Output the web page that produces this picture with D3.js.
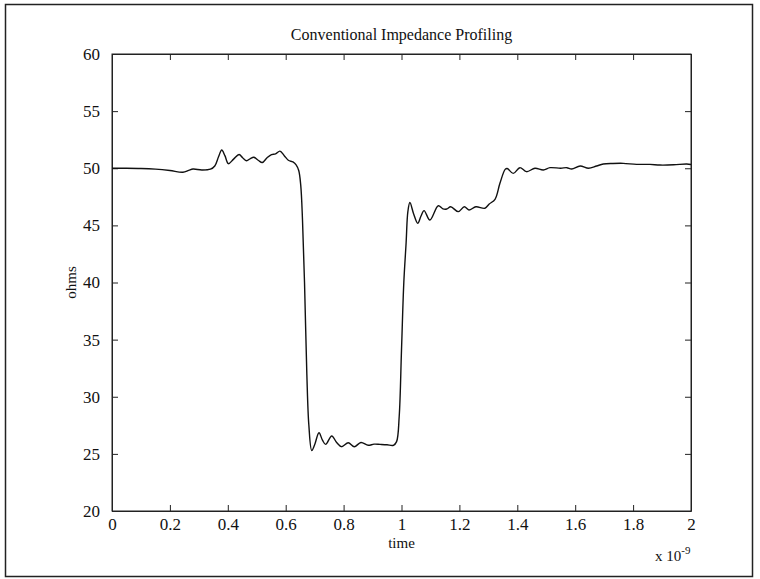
<!DOCTYPE html>
<html>
<head>
<meta charset="utf-8">
<script src="https://cdn.jsdelivr.net/npm/d3@7"></script>
<style>
  body { margin: 0; background: #fff; }
  text { font-family: "Liberation Serif", "DejaVu Serif", serif; fill: #111; }
</style>
</head>
<body>
<div class="container"></div>
<script>
  // data (time in units of 1e-9 s)
  var times = [0, 0.05, 0.1, 0.15, 0.2, 0.245, 0.265, 0.28, 0.31, 0.34, 0.355, 0.368, 0.379, 0.39, 0.402,
    0.42, 0.439, 0.452, 0.465, 0.478, 0.49, 0.505, 0.519, 0.535, 0.551, 0.565, 0.58, 0.595, 0.609, 0.625,
    0.636, 0.645, 0.652, 0.658, 0.665, 0.673, 0.68, 0.69, 0.7, 0.715, 0.727, 0.738, 0.759, 0.776, 0.793,
    0.816, 0.837, 0.86, 0.885, 0.905, 0.926, 0.95, 0.972, 0.983, 0.992, 1.0, 1.008, 1.016, 1.022, 1.029,
    1.042, 1.056, 1.067, 1.078, 1.098, 1.127, 1.143, 1.156, 1.17, 1.196, 1.217, 1.233, 1.257, 1.288, 1.303,
    1.323, 1.34, 1.358, 1.365, 1.386, 1.409, 1.432, 1.461, 1.49, 1.513, 1.55, 1.571, 1.588, 1.617, 1.646,
    1.674, 1.697, 1.73, 1.766, 1.812, 1.858, 1.893, 1.94, 1.985, 2.0];
  var ohms = [50.0, 50.0, 49.98, 49.92, 49.8, 49.65, 49.82, 49.93, 49.85, 49.92, 50.2, 51.0, 51.6, 51.1, 50.4,
    50.8, 51.2, 50.9, 50.66, 50.85, 50.96, 50.7, 50.5, 50.9, 51.2, 51.25, 51.5, 51.1, 50.7, 50.55,
    50.3, 49.8, 48.5, 45.5, 40.0, 32.0, 27.5, 25.3, 25.8, 26.85, 26.2, 25.83, 26.56, 26.0, 25.63,
    25.98, 25.63, 26.0, 25.75, 25.85, 25.83, 25.8, 25.75, 26.07, 28.25, 34.1, 40.0, 43.5, 46.2, 47.0,
    46.0, 45.18, 45.8, 46.29, 45.47, 46.72, 46.45, 46.43, 46.63, 46.2, 46.63, 46.35, 46.63, 46.5, 46.87,
    47.28, 48.68, 49.9, 49.98, 49.55, 50.05, 49.7, 50.0, 49.85, 50.05, 50.0, 50.05, 49.93, 50.2, 50.0,
    50.2, 50.37, 50.42, 50.43, 50.34, 50.34, 50.28, 50.3, 50.37, 50.33];
  var xTicks = [0, 0.2, 0.4, 0.6, 0.8, 1, 1.2, 1.4, 1.6, 1.8, 2];
  var yTicks = [20, 25, 30, 35, 40, 45, 50, 55, 60];

  var w = 760, h = 579;
  var pLeft = 112, pRight = 691, pTop = 54, pBottom = 511;
  var tick = 6;

  var svg = d3.select(".container").append("svg").attr("width", w).attr("height", h);

  // outer frame
  svg.append("rect").attr("x", 5.5).attr("y", 4.5).attr("width", 747).attr("height", 572)
    .attr("fill", "none").attr("stroke", "#222").attr("stroke-width", 1.5);

  var x = d3.scaleLinear().domain([0, 2]).range([pLeft, pRight]);
  var y = d3.scaleLinear().domain([20, 60]).range([pBottom, pTop]);

  var fmt = function(d){ return d3.format("")(d); };

  // axes, ticks inward
  svg.append("g").attr("transform", "translate(0," + pBottom + ")")
    .call(d3.axisBottom(x).tickValues(xTicks).tickSizeInner(-tick).tickSizeOuter(0).tickPadding(7).tickFormat(fmt));
  svg.append("g").attr("transform", "translate(0," + pTop + ")")
    .call(d3.axisTop(x).tickValues(xTicks).tickSizeInner(-tick).tickSizeOuter(0).tickFormat(""));
  svg.append("g").attr("transform", "translate(" + pLeft + ",0)")
    .call(d3.axisLeft(y).tickValues(yTicks).tickSizeInner(-tick).tickSizeOuter(0).tickPadding(12).tickFormat(fmt));
  svg.append("g").attr("transform", "translate(" + pRight + ",0)")
    .call(d3.axisRight(y).tickValues(yTicks).tickSizeInner(-tick).tickSizeOuter(0).tickFormat(""));

  svg.selectAll(".domain, .tick line").attr("stroke", "#222").attr("stroke-width", 1);
  svg.selectAll(".tick text").style("font-size", "17px").attr("fill", "#111");

  // box lines
  svg.append("rect").attr("x", pLeft).attr("y", pTop).attr("width", pRight - pLeft).attr("height", pBottom - pTop)
    .attr("fill", "none").attr("stroke", "#222").attr("stroke-width", 1);

  // curve
  var pts = times.map(function(t, i){ return [t, ohms[i]]; });
  var line = d3.line()
    .x(function(d){ return x(d[0]); })
    .y(function(d){ return y(d[1]); })
    .curve(d3.curveCatmullRom.alpha(0.5));
  svg.append("path").datum(pts).attr("d", line)
    .attr("fill", "none").attr("stroke", "#111").attr("stroke-width", 1.4);

  // labels
  svg.append("text").attr("x", (pLeft + pRight) / 2).attr("y", 40).attr("text-anchor", "middle")
    .style("font-size", "16px").text("Conventional Impedance Profiling");
  svg.append("text").attr("x", (pLeft + pRight) / 2).attr("y", 548).attr("text-anchor", "middle")
    .style("font-size", "15px").text("time");
  svg.append("text").attr("transform", "translate(76," + ((pTop + pBottom) / 2) + ") rotate(-90)")
    .attr("text-anchor", "middle").style("font-size", "15px").text("ohms");
  var exp = svg.append("text").attr("x", 655).attr("y", 561).style("font-size", "15px");
  exp.append("tspan").text("x 10");
  exp.append("tspan").attr("dy", -7).style("font-size", "11px").text("-9");
</script>
</body>
</html>
